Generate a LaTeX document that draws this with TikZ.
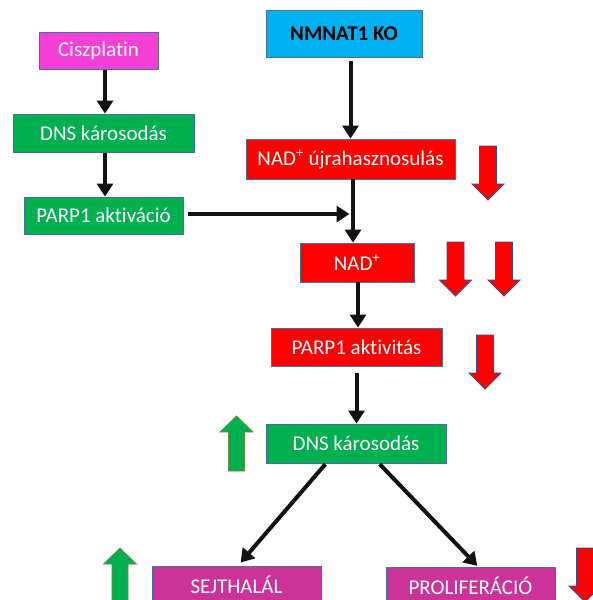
\documentclass[tikz,border=0pt]{standalone}
\usepackage{fontspec}
\setmainfont{Carlito}[Ligatures=NoCommon]
\usetikzlibrary{arrows.meta,positioning,calc}
\definecolor{cispink}{RGB}{244,64,214}
\definecolor{boxgreen}{RGB}{0,176,80}
\definecolor{boxblue}{RGB}{0,176,240}
\definecolor{boxpurple}{RGB}{204,51,153}
\definecolor{edgeblue}{RGB}{65,113,156}
\definecolor{redline}{RGB}{47,82,143}
\definecolor{greenline}{RGB}{112,140,60}
\tikzset{
  box/.style={draw=edgeblue, line width=0.8pt, text=white, align=center,
              font=\fontsize{21}{24}\selectfont, inner sep=0pt, minimum height=38pt},
  pinkbox/.style={box, fill=cispink},
  greenbox/.style={box, fill=boxgreen},
  redbox/.style={box, fill=red},
  bluebox/.style={box, fill=boxblue, text=black, font=\fontsize{21}{24}\selectfont\bfseries},
  purplebox/.style={box, fill=boxpurple},
  flow/.style={-{Triangle[length=13pt,width=16pt]}, line width=4pt, draw=black!93},
  fall/.pic={\filldraw[fill=red, draw=redline, line width=0.8pt]
    (-8.5,0) -- (8.5,0) -- (8.5,38) -- (16,38) -- (0,54) -- (-16,38) -- (-8.5,38) -- cycle;},
  rise/.pic={\filldraw[fill=boxgreen, draw=greenline, line width=0.8pt]
    (0,0) -- (16.5,16) -- (8,16) -- (8,55) -- (-8,55) -- (-8,16) -- (-16.5,16) -- cycle;},
}
\begin{document}
\begin{tikzpicture}[x=1pt, y=-1pt]
  \useasboundingbox (0,0) rectangle (593,600);
  \node[pinkbox, minimum width=119pt, minimum height=37pt] (cisz) at (98.5,50.5) {Ciszplatin};
  \node[greenbox, minimum width=181pt] (dnsa) at (103.5,133) {DNS károsodás};
  \node[greenbox, minimum width=159pt, minimum height=37pt] (parpakt) at (103.5,215.5) {PARP1 aktiváció};
  \node[bluebox, minimum width=156pt, minimum height=47pt] (ko) at (344,33.5) {NMNAT1 KO};
  \node[redbox, minimum width=209pt, minimum height=40pt] (recyc) at (350.5,159) {NAD\textsuperscript{+} újrahasznosulás};
  \node[redbox, minimum width=114pt, minimum height=39pt] (nad) at (357,262.5) {NAD\textsuperscript{+}};
  \node[redbox, minimum width=171pt] (parpact) at (356.5,347) {PARP1 aktivitás};
  \node[greenbox, minimum width=180pt, minimum height=39pt] (dnsb) at (356,443.5) {DNS károsodás};
  \node[purplebox, minimum width=169pt] (death) at (236.5,585) {SEJTHALÁL};
  \node[purplebox, minimum width=169pt] (prolif) at (470.5,586) {PROLIFERÁCIÓ};
  \draw[flow, shorten <=0.5pt] ([xshift=6.5pt]cisz.south) -- ([xshift=1.5pt]dnsa.north);
  \draw[flow, shorten <=0.5pt] ([xshift=1.5pt]dnsa.south) -- ([xshift=1.5pt]parpakt.north);
  \draw[flow, shorten <=5pt, shorten >=1pt] ([yshift=1.5pt]parpakt.east) -- ([yshift=1.5pt]parpakt.east -| recyc.south);
  \draw[flow, shorten <=4pt] (ko.south -| recyc.north) -- (recyc.north);
  \draw[flow] ([xshift=2.5pt]recyc.south) -- ([xshift=-4pt]nad.north);
  \draw[flow] ([xshift=1pt]nad.south) -- ([xshift=1pt]nad.south |- parpact.north);
  \draw[flow, shorten <=7pt] (parpact.south) -- (parpact.south |- dnsb.north);
  \draw[flow, shorten <=1pt, shorten >=4pt] ([xshift=-30pt]dnsb.south) -- ([xshift=1.5pt]death.north);
  \draw[flow, shorten <=1pt, shorten >=1pt] ([xshift=23pt]dnsb.south) -- ([xshift=7.5pt]prolif.north);
  \pic at (488,146) {fall};
  \pic at (455.5,242) {fall};
  \pic at (504,242) {fall};
  \pic at (485,335) {fall};
  \pic at (585,548) {fall};
  \pic at (236.5,416) {rise};
  \pic at (120,548) {rise};
\end{tikzpicture}
\end{document}
